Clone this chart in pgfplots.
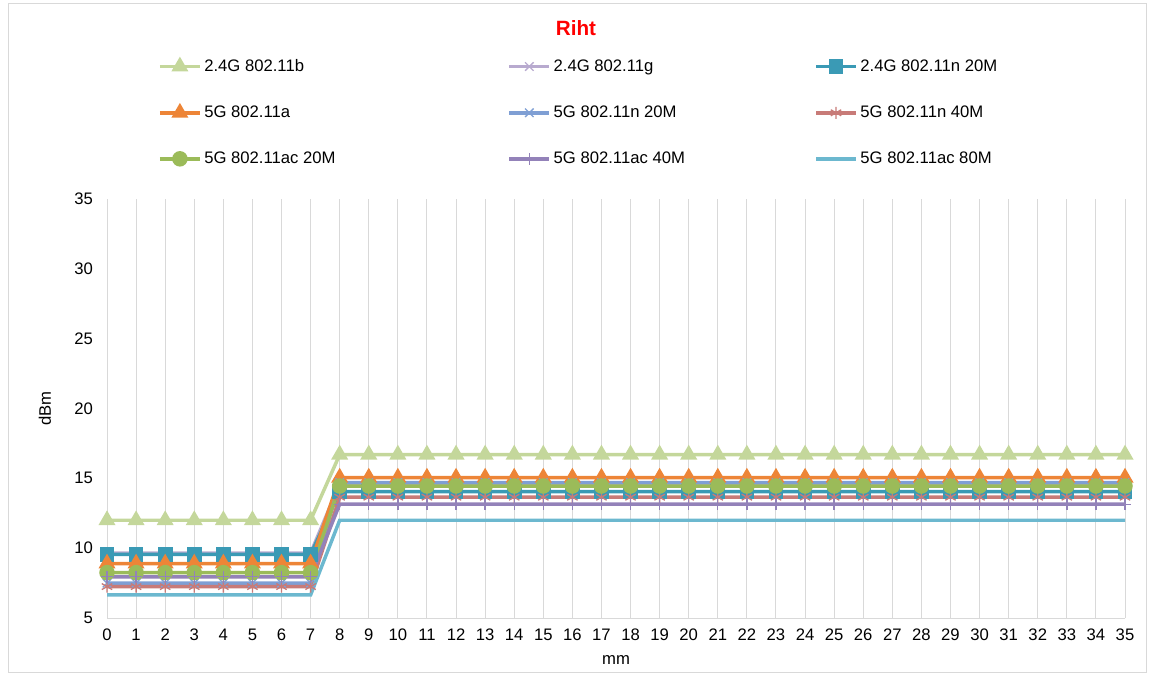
\documentclass[border=0pt]{standalone}
\usepackage{pgfplots}
\usepackage{pgfplotstable}
\pgfplotsset{compat=1.18}
\usepackage{fontspec}
\setmainfont{Liberation Sans}

\definecolor{cB}{HTML}{C4D79B}
\definecolor{cG}{HTML}{B8AACF}
\definecolor{cN24}{HTML}{3A9AB5}
\definecolor{cA}{HTML}{ED8537}
\definecolor{cN20}{HTML}{7F9FD4}
\definecolor{cN40}{HTML}{C87B78}
\definecolor{cAC20}{HTML}{9BBB59}
\definecolor{cAC40}{HTML}{9382B9}
\definecolor{cAC80}{HTML}{6CB8CF}
\definecolor{gridc}{HTML}{D9D9D9}

% x, then one column per series
\pgfplotstableread{
x  b     g     n24   a     n20   n40   ac20  ac40  ac80
0  12.0  9.65  9.55  8.9   7.5   7.25  8.25  7.95  6.65
1  12.0  9.65  9.55  8.9   7.5   7.25  8.25  7.95  6.65
2  12.0  9.65  9.55  8.9   7.5   7.25  8.25  7.95  6.65
3  12.0  9.65  9.55  8.9   7.5   7.25  8.25  7.95  6.65
4  12.0  9.65  9.55  8.9   7.5   7.25  8.25  7.95  6.65
5  12.0  9.65  9.55  8.9   7.5   7.25  8.25  7.95  6.65
6  12.0  9.65  9.55  8.9   7.5   7.25  8.25  7.95  6.65
7  12.0  9.65  9.55  8.9   7.5   7.25  8.25  7.95  6.65
8  16.7  14.6  14.05 15.05 14.7  13.65 14.45 13.15 12.0
9  16.7  14.6  14.05 15.05 14.7  13.65 14.45 13.15 12.0
10 16.7  14.6  14.05 15.05 14.7  13.65 14.45 13.15 12.0
11 16.7  14.6  14.05 15.05 14.7  13.65 14.45 13.15 12.0
12 16.7  14.6  14.05 15.05 14.7  13.65 14.45 13.15 12.0
13 16.7  14.6  14.05 15.05 14.7  13.65 14.45 13.15 12.0
14 16.7  14.6  14.05 15.05 14.7  13.65 14.45 13.15 12.0
15 16.7  14.6  14.05 15.05 14.7  13.65 14.45 13.15 12.0
16 16.7  14.6  14.05 15.05 14.7  13.65 14.45 13.15 12.0
17 16.7  14.6  14.05 15.05 14.7  13.65 14.45 13.15 12.0
18 16.7  14.6  14.05 15.05 14.7  13.65 14.45 13.15 12.0
19 16.7  14.6  14.05 15.05 14.7  13.65 14.45 13.15 12.0
20 16.7  14.6  14.05 15.05 14.7  13.65 14.45 13.15 12.0
21 16.7  14.6  14.05 15.05 14.7  13.65 14.45 13.15 12.0
22 16.7  14.6  14.05 15.05 14.7  13.65 14.45 13.15 12.0
23 16.7  14.6  14.05 15.05 14.7  13.65 14.45 13.15 12.0
24 16.7  14.6  14.05 15.05 14.7  13.65 14.45 13.15 12.0
25 16.7  14.6  14.05 15.05 14.7  13.65 14.45 13.15 12.0
26 16.7  14.6  14.05 15.05 14.7  13.65 14.45 13.15 12.0
27 16.7  14.6  14.05 15.05 14.7  13.65 14.45 13.15 12.0
28 16.7  14.6  14.05 15.05 14.7  13.65 14.45 13.15 12.0
29 16.7  14.6  14.05 15.05 14.7  13.65 14.45 13.15 12.0
30 16.7  14.6  14.05 15.05 14.7  13.65 14.45 13.15 12.0
31 16.7  14.6  14.05 15.05 14.7  13.65 14.45 13.15 12.0
32 16.7  14.6  14.05 15.05 14.7  13.65 14.45 13.15 12.0
33 16.7  14.6  14.05 15.05 14.7  13.65 14.45 13.15 12.0
34 16.7  14.6  14.05 15.05 14.7  13.65 14.45 13.15 12.0
35 16.7  14.6  14.05 15.05 14.7  13.65 14.45 13.15 12.0
}\rftable

\begin{document}
\begin{tikzpicture}
% 1px of the reference = 0.75pt
\useasboundingbox (0,0) rectangle (864pt,-507.75pt);
\draw[gridc, line width=0.75pt] (6pt,-2.5pt) rectangle (859.5pt,-504.5pt);
\begin{axis}[
    at={(80.25pt,-463.5pt)}, anchor=south west,
    scale only axis,
    width=763.5pt, height=314.25pt,
    xmin=0, xmax=35, ymin=5, ymax=35,
    enlargelimits=false,
    xtick={0,1,...,35},
    ytick={5,10,...,35},
    major tick length=0pt,
    axis lines*=left,
    axis line style={gridc, line width=0.75pt, -},
    xmajorgrids,
    grid style={gridc, line width=0.75pt},
    font=\fontsize{12.5}{15}\selectfont,
    /pgf/number format/assume math mode=true,
    xticklabel style={yshift=-4.5pt},
    yticklabel style={xshift=-7pt},
    xlabel={mm},
    xlabel style={at={(axis description cs:0.5,-0.1)}, anchor=center},
    ylabel={dBm},
    ylabel style={at={(axis description cs:-0.061,0.5)}, anchor=center},
    title={Riht},
    title style={at={(axis description cs:0.4607,1.389)}, anchor=center,
        font=\fontsize{15.5}{18}\selectfont\bfseries, text=red},
    every axis plot/.append style={line width=2.6pt},
    mark options={solid},
    legend columns=3,
    legend style={draw=none, fill=none, inner sep=0pt,
        at={(axis description cs:0.05,1.34)}, anchor=north west,
        row sep=20.3pt, cells={anchor=west},
        /tikz/column 2/.style={column sep=127pt},
        /tikz/column 4/.style={column sep=95pt},
        font=\fontsize{12.5}{15}\selectfont},
    legend image code/.code={
        \draw[mark repeat=2, mark phase=2]
        plot coordinates {(0pt,0pt) (15pt,0pt) (30pt,0pt)};
    },
]
\addplot[cB, mark=triangle*, mark size=4.8pt] table[x=x, y=b] {\rftable};
\addlegendentry{2.4G 802.11b}
\addplot[cG, mark=x, mark size=4.5pt, mark options={line width=1pt}] table[x=x, y=g] {\rftable};
\addlegendentry{2.4G 802.11g}
\addplot[cN24, mark=square*, mark size=4.2pt] table[x=x, y=n24] {\rftable};
\addlegendentry{2.4G 802.11n 20M}
\addplot[cA, mark=triangle*, mark size=4.8pt] table[x=x, y=a] {\rftable};
\addlegendentry{5G 802.11a}
\addplot[cN20, mark=x, mark size=4.5pt, mark options={line width=1pt}] table[x=x, y=n20] {\rftable};
\addlegendentry{5G 802.11n 20M}
\addplot[cN40, mark=asterisk, mark size=4.5pt, mark options={line width=1pt}] table[x=x, y=n40] {\rftable};
\addlegendentry{5G 802.11n 40M}
\addplot[cAC20, mark=*, mark size=4.5pt] table[x=x, y=ac20] {\rftable};
\addlegendentry{5G 802.11ac 20M}
\addplot[cAC40, mark=+, mark size=4.5pt, mark options={line width=1pt}] table[x=x, y=ac40] {\rftable};
\addlegendentry{5G 802.11ac 40M}
\addplot[cAC80, no marks] table[x=x, y=ac80] {\rftable};
\addlegendentry{5G 802.11ac 80M}
\end{axis}
\end{tikzpicture}
\end{document}
